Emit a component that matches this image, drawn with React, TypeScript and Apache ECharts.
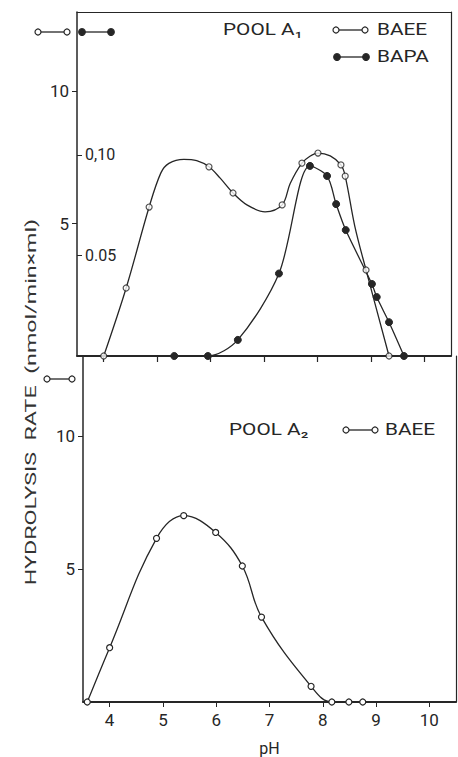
import React, { useEffect, useRef } from "react";
import * as echarts from "echarts";

// ---------- data ----------
const PH_TICKS = [4, 5, 6, 7, 8, 9, 10];
const RATE_TICKS = [5, 10];
const INNER_TICKS = [0.05, 0.1];
const INNER_TICK_LABELS = ["0.05", "0,10"];

// Pool A1, BAEE (left scale, nmol/min×ml): measured points
const A1_BAEE_PH = [4.0, 4.42, 4.85, 5.97, 6.42, 7.34, 7.71, 8.01, 8.44, 8.52, 8.91, 9.34];
const A1_BAEE_RATE = [0, 2.57, 5.63, 7.15, 6.16, 5.71, 7.29, 7.67, 7.22, 6.8, 3.25, 0];
// Pool A1, BAEE: hand-drawn curve
const A1_BAEE_CURVE_PH = [4.0, 4.42, 4.85, 5.07, 5.22, 5.5, 5.74, 5.97, 6.18, 6.42, 6.68, 7.02, 7.34, 7.49, 7.71, 7.86, 8.01, 8.24, 8.44, 8.52, 8.7, 8.91, 9.34];
const A1_BAEE_CURVE_RATE = [0, 2.57, 5.63, 6.92, 7.28, 7.43, 7.38, 7.15, 6.72, 6.16, 5.71, 5.45, 5.71, 6.52, 7.29, 7.55, 7.67, 7.56, 7.22, 6.8, 4.9, 3.25, 0];

// Pool A1, BAPA (inner scale)
const A1_BAPA_PH = [5.32, 5.95, 6.51, 7.28, 7.86, 8.18, 8.35, 8.53, 9.02, 9.11, 9.34, 9.62];
const A1_BAPA_RATE = [0, 0, 0.008, 0.041, 0.0945, 0.0895, 0.0755, 0.0626, 0.0358, 0.0293, 0.0168, 0];

// Pool A2, BAEE
const A2_BAEE_PH = [3.58, 4.0, 4.88, 5.39, 5.99, 6.49, 6.85, 7.78, 8.17, 8.49, 8.75];
const A2_BAEE_RATE = [0, 2.04, 6.15, 7.0, 6.37, 5.11, 3.19, 0.59, 0, 0, 0];

const INK = "#262626";
const FONT = "Roboto, 'DejaVu Sans', sans-serif";

const zip = (a: number[], b: number[]) => a.map((v, i) => [v, b[i]]);

function pair(x1: number, x2: number, y: number, filled: boolean) {
  const r = filled ? 3.3 : 3;
  return {
    type: "group",
    children: [
      { type: "line", shape: { x1, y1: y, x2, y2: y }, style: { stroke: INK, lineWidth: 1.3 } },
      { type: "circle", shape: { cx: x1, cy: y, r }, style: { fill: filled ? INK : "#fff", stroke: INK, lineWidth: 1.2 } },
      { type: "circle", shape: { cx: x2, cy: y, r }, style: { fill: filled ? INK : "#fff", stroke: INK, lineWidth: 1.2 } },
    ],
  };
}

function label(text: string, x: number, y: number, size = 16, sx = 1.3) {
  return {
    type: "text",
    x,
    y,
    scaleX: sx,
    style: { text, font: `${size}px ${FONT}`, fill: INK, align: "left", verticalAlign: "middle" },
  };
}

// frame-only axis (line, no ticks, no labels)
function frameAxis(gridIndex: number, position: string, min: number, max: number) {
  return {
    type: "value",
    gridIndex,
    position,
    min,
    max,
    splitLine: { show: false },
    axisLine: { show: true, onZero: false, lineStyle: { color: INK, width: 1.2 } },
    axisTick: { show: false },
    axisLabel: { show: false },
  };
}

export default function App() {
  const ref = useRef<HTMLDivElement>(null);
  useEffect(() => {
    if (!ref.current) return;
    const chart = echarts.init(ref.current, null, { renderer: "svg" });
    const yBase = {
      type: "value",
      min: 0,
      max: 13,
      position: "left",
      splitLine: { show: false },
      axisLine: { onZero: false, lineStyle: { color: INK, width: 1.5 } },
      axisTick: { show: true, customValues: RATE_TICKS, length: 5, lineStyle: { color: INK } },
      axisLabel: { customValues: RATE_TICKS, fontSize: 17, fontFamily: FONT, color: INK, margin: 8 },
    };
    const option: any = {
      animation: false,
      grid: [
        { left: 77, top: 12, width: 374, height: 344 },
        { left: 83, top: 356, width: 373, height: 352 },
      ],
      xAxis: [
        {
          type: "value",
          gridIndex: 0,
          position: "bottom",
          min: 3.5,
          max: 10.5,
          splitLine: { show: false },
          axisLine: { onZero: false, lineStyle: { color: INK, width: 1.8 } },
          axisTick: { show: true, inside: false, customValues: PH_TICKS, length: 6, lineStyle: { color: INK, width: 1.2 } },
          axisLabel: { show: true, customValues: PH_TICKS, formatter: () => "" },
        },
        {
          type: "value",
          gridIndex: 1,
          position: "bottom",
          min: 3.5,
          max: 10.5,
          splitLine: { show: false },
          axisLine: { onZero: false, lineStyle: { color: INK, width: 1.8 } },
          axisTick: { show: true, customValues: PH_TICKS, length: 5, lineStyle: { color: INK } },
          axisLabel: { customValues: PH_TICKS, fontSize: 17, fontFamily: FONT, color: INK, margin: 9 },
          name: "pH",
          nameLocation: "middle",
          nameGap: 38,
          nameTextStyle: { fontSize: 16, fontFamily: FONT, color: INK },
        },
        frameAxis(0, "top", 3.5, 10.5),
      ],
      yAxis: [
        { ...yBase, gridIndex: 0 },
        {
          type: "value",
          gridIndex: 0,
          position: "left",
          min: 0,
          max: 0.171,
          splitLine: { show: false },
          axisLine: { show: false },
          axisTick: { show: true, inside: true, customValues: INNER_TICKS, length: 5, lineStyle: { color: INK } },
          axisLabel: {
            inside: true,
            customValues: INNER_TICKS,
            margin: 8,
            fontSize: 16,
            fontFamily: FONT,
            color: INK,
            formatter: (v: number) => {
              const i = INNER_TICKS.findIndex((t) => Math.abs(t - v) < 1e-6);
              return i >= 0 ? INNER_TICK_LABELS[i] : "";
            },
          },
        },
        { ...yBase, gridIndex: 1 },
        frameAxis(0, "right", 0, 13),
        frameAxis(1, "right", 0, 13),
      ],
      series: [
        {
          name: "BAEE A1 curve",
          type: "line",
          xAxisIndex: 0,
          yAxisIndex: 0,
          data: zip(A1_BAEE_CURVE_PH, A1_BAEE_CURVE_RATE),
          smooth: 0.35,
          showSymbol: false,
          lineStyle: { color: INK, width: 1.3 },
          z: 2,
        },
        {
          name: "BAEE A1",
          type: "scatter",
          xAxisIndex: 0,
          yAxisIndex: 0,
          data: zip(A1_BAEE_PH, A1_BAEE_RATE),
          symbol: "circle",
          symbolSize: 6,
          itemStyle: { color: "#fff", borderColor: INK, borderWidth: 1.2 },
          z: 4,
        },
        {
          name: "BAPA A1",
          type: "line",
          xAxisIndex: 0,
          yAxisIndex: 1,
          data: zip(A1_BAPA_PH, A1_BAPA_RATE),
          smooth: 0.3,
          symbol: "circle",
          symbolSize: 7,
          itemStyle: { color: INK, borderColor: INK },
          lineStyle: { color: INK, width: 1.3 },
          z: 3,
        },
        {
          name: "BAEE A2",
          type: "line",
          xAxisIndex: 1,
          yAxisIndex: 2,
          data: zip(A2_BAEE_PH, A2_BAEE_RATE),
          smooth: 0.4,
          symbol: "circle",
          symbolSize: 6,
          itemStyle: { color: "#fff", borderColor: INK, borderWidth: 1.2 },
          lineStyle: { color: INK, width: 1.3 },
          z: 3,
        },
      ],
      graphic: [
        pair(38, 67, 32, false),
        pair(82, 111, 32, true),
        pair(47, 72, 379, false),
        label("POOL A₁", 223, 30),
        pair(336, 365, 30, false),
        label("BAEE", 377, 30),
        pair(337, 366, 57, true),
        label("BAPA", 377, 57),
        label("POOL A₂", 229, 430),
        pair(346, 375, 430, false),
        label("BAEE", 385, 430),
        {
          type: "text",
          x: 31,
          y: 402,
          rotation: Math.PI / 2,
          scaleX: 1.55,
          style: {
            text: "HYDROLYSIS  RATE  (nmol/min×ml)",
            font: `15px ${FONT}`,
            fill: "#333",
            align: "center",
            verticalAlign: "middle",
          },
        },
      ],
    };
    chart.setOption(option);
    return () => chart.dispose();
  }, []);
  return <div ref={ref} style={{ width: 458, height: 757, position: "absolute", left: 0, top: 0, background: "#fff" }} />;
}
